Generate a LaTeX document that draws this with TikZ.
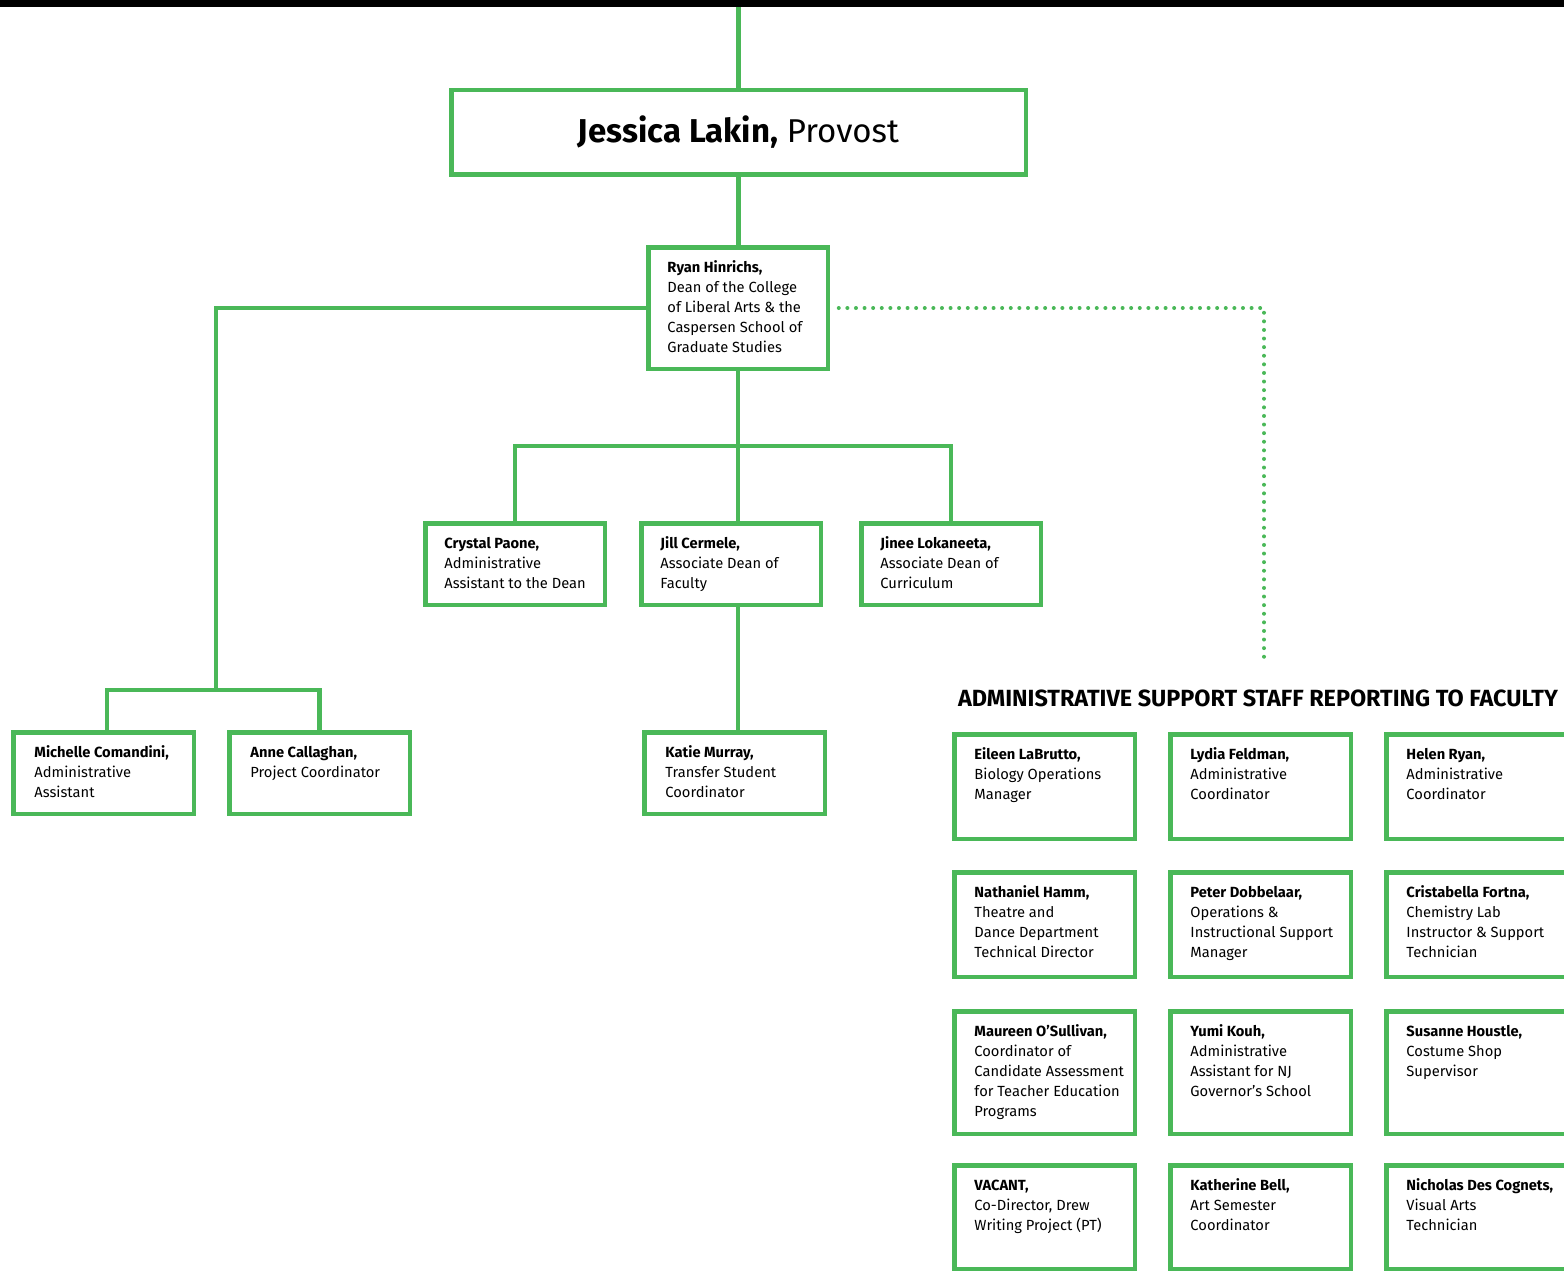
\documentclass[tikz,border=0pt]{standalone}
\usepackage{fontspec}
\setmainfont{Fira Sans}
\usetikzlibrary{positioning}
\definecolor{drewgreen}{RGB}{74,184,88}
\tikzset{
  orgbox/.style={draw=drewgreen,line width=4.5pt,rectangle,inner sep=0pt,outer sep=0pt,anchor=north west},
  orgtext/.style={anchor=north west,align=left,inner sep=0pt,font=\fontsize{14.7}{20}\selectfont},
  link/.style={drewgreen,line width=4.5pt},
  dotlink/.style={drewgreen,line width=4pt,line cap=round,dash pattern=on 0pt off 8.6pt},
}
\newcommand{\person}[2]{\strut\textbf{#1}\\#2}
\begin{document}
\begin{tikzpicture}[x=1pt,y=-1pt]
\useasboundingbox (0,0) rectangle (1564,1271);
\fill[black] (0,0) rectangle (1564,7);
% provost and dean
\node[orgbox,minimum width=574.5pt,minimum height=84.5pt,font=\fontsize{33}{38}\selectfont] (provost) at (451.25,90.25) {\textbf{Jessica Lakin,} Provost};
\node[orgbox,minimum width=179.5pt,minimum height=121.5pt] (dean) at (648.25,247.25) {};
\node[orgtext] (deant) at ([xshift=19pt,yshift=-10.75pt]dean.north west) {\person{Ryan Hinrichs,}{Dean of the College\\of Liberal Arts \& the\\Caspersen School of\\Graduate Studies}};
% second level
\node[orgbox,minimum width=179.5pt,minimum height=81.5pt] (crystal) at (425.25,523.25) {};
\node[orgtext] (crystalt) at ([xshift=19pt,yshift=-10.75pt]crystal.north west) {\person{Crystal Paone,}{Administrative\\Assistant to the Dean}};
\node[orgbox,minimum width=179.5pt,minimum height=81.5pt] (jill) at (641.25,523.25) {};
\node[orgtext] (jillt) at ([xshift=19pt,yshift=-10.75pt]jill.north west) {\person{Jill Cermele,}{Associate Dean of\\Faculty}};
\node[orgbox,minimum width=179.5pt,minimum height=81.5pt] (jinee) at (861.25,523.25) {};
\node[orgtext] (jineet) at ([xshift=19pt,yshift=-10.75pt]jinee.north west) {\person{Jinee Lokaneeta,}{Associate Dean of\\Curriculum}};
% third level
\node[orgbox,minimum width=180.5pt,minimum height=81.5pt] (michelle) at (13.25,732.25) {};
\node[orgtext] (michellet) at ([xshift=21pt,yshift=-10.75pt]michelle.north west) {\person{Michelle Comandini,}{Administrative\\Assistant}};
\node[orgbox,minimum width=180.5pt,minimum height=81.5pt] (anne) at (229.25,732.25) {};
\node[orgtext] (annet) at ([xshift=21pt,yshift=-10.75pt]anne.north west) {\person{Anne Callaghan,}{Project Coordinator}};
\node[orgbox,minimum width=180.5pt,minimum height=81.5pt] (katie) at (644.25,732.25) {};
\node[orgtext] (katiet) at ([xshift=21pt,yshift=-10.75pt]katie.north west) {\person{Katie Murray,}{Transfer Student\\Coordinator}};
% support staff
\node[font=\bfseries\fontsize{23.4}{27}\selectfont,inner sep=0pt] (heading) at (1258,698) {ADMINISTRATIVE SUPPORT STAFF REPORTING TO FACULTY};
\foreach \gx/\gy/\gh/\gname/\gtitle [count=\k] in {
    954.25/734.25/104.5/{Eileen LaBrutto,}/{Biology Operations\\Manager},
    1170.25/734.25/104.5/{Lydia Feldman,}/{Administrative\\Coordinator},
    1386.25/734.25/104.5/{Helen Ryan,}/{Administrative\\Coordinator},
    954.25/872.25/104.5/{Nathaniel Hamm,}/{Theatre and\\Dance Department\\Technical Director},
    1170.25/872.25/104.5/{Peter Dobbelaar,}/{Operations \&\\Instructional Support\\Manager},
    1386.25/872.25/104.5/{Cristabella Fortna,}/{Chemistry Lab\\Instructor \& Support\\Technician},
    954.25/1011.25/122.5/{Maureen O’Sullivan,}/{Coordinator of\\Candidate Assessment\\for Teacher Education\\Programs},
    1170.25/1011.25/122.5/{Yumi Kouh,}/{Administrative\\Assistant for NJ\\Governor’s School},
    1386.25/1011.25/122.5/{Susanne Houstle,}/{Costume Shop\\Supervisor},
    954.25/1165.25/103.5/{VACANT,}/{Co-Director, Drew\\Writing Project (PT)},
    1170.25/1165.25/103.5/{Katherine Bell,}/{Art Semester\\Coordinator},
    1386.25/1165.25/103.5/{Nicholas Des Cognets,}/{Visual Arts\\Technician}}{
  \node[orgbox,minimum width=180.5pt,minimum height=\gh pt] (g\k) at (\gx,\gy) {};
  \node[orgtext] (g\k t) at ([xshift=20pt,yshift=-10.75pt]g\k.north west) {\person{\gname}{\gtitle}};
}
% connectors
\draw[link] (provost.north) -- (provost.north |- 0,7);
\draw[link] (provost.south) -- (provost.south |- dean.north);
\draw[link] (dean.west) -| (216,690) coordinate (lsplit);
\draw[link] ([xshift=3.5pt]michelle.north) |- (lsplit) -| (anne.north);
\coordinate (msplit) at (738,446);
\draw[link] (dean.south) -- (dean.south |- jill.north);
\draw[link] (crystal.north) |- (msplit) -| (jinee.north);
\draw[link] (dean.south |- jill.south) -- (dean.south |- katie.north);
\coordinate (dotend) at (1264,663);
\draw[dotlink] ([xshift=11pt]dean.east) -| (dotend);
\end{tikzpicture}
\end{document}
